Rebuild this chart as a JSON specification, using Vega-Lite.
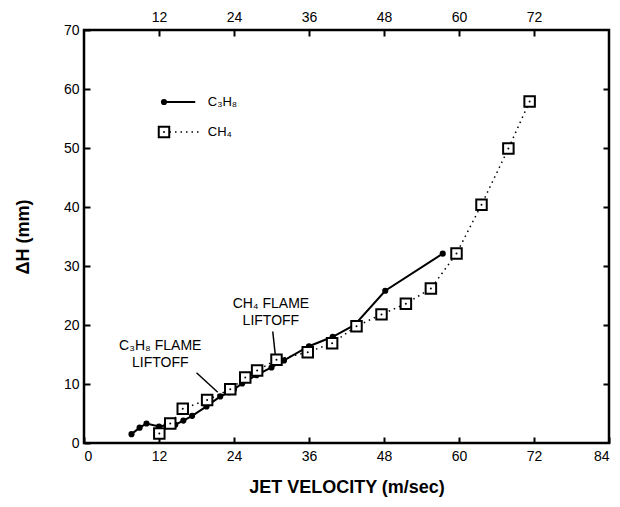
{
  "$schema": "https://vega.github.io/schema/vega-lite/v6.json",
  "width": 525,
  "height": 413,
  "autosize": "none",
  "padding": {"left": 84, "top": 30, "right": 11, "bottom": 64},
  "background": "white",
  "config": {
    "view": {"stroke": "#000", "strokeWidth": 2.5},
    "font": "Liberation Sans",
    "axis": {
      "domain": false, "grid": false,
      "tickColor": "#000", "tickWidth": 2, "tickSize": -6,
      "labelColor": "#000", "labelFont": "Liberation Sans", "labelFontSize": 14,
      "titleFont": "Liberation Sans", "titleColor": "#000", "titleFontSize": 18, "titleFontWeight": "bold"
    }
  },
  "datasets": {
    "c3h8": [
      {"velocity": 7.6, "dh": 1.5}, {"velocity": 8.9, "dh": 2.6}, {"velocity": 10.0, "dh": 3.3},
      {"velocity": 12.0, "dh": 2.8}, {"velocity": 13.2, "dh": 3.0}, {"velocity": 14.6, "dh": 3.1},
      {"velocity": 15.9, "dh": 3.8}, {"velocity": 17.3, "dh": 4.6}, {"velocity": 19.6, "dh": 6.2},
      {"velocity": 21.8, "dh": 7.9}, {"velocity": 23.2, "dh": 8.6}, {"velocity": 24.0, "dh": 9.1},
      {"velocity": 25.3, "dh": 10.1}, {"velocity": 27.6, "dh": 11.5}, {"velocity": 30.0, "dh": 12.8},
      {"velocity": 32.0, "dh": 14.0}, {"velocity": 36.0, "dh": 16.4}, {"velocity": 39.8, "dh": 18.0},
      {"velocity": 43.3, "dh": 20.0}, {"velocity": 48.2, "dh": 25.8}, {"velocity": 57.4, "dh": 32.1}
    ],
    "ch4": [
      {"velocity": 12.05, "dh": 1.6}, {"velocity": 13.8, "dh": 3.3}, {"velocity": 15.8, "dh": 5.8},
      {"velocity": 19.7, "dh": 7.3}, {"velocity": 23.4, "dh": 9.1}, {"velocity": 25.8, "dh": 11.1},
      {"velocity": 27.7, "dh": 12.3}, {"velocity": 30.8, "dh": 14.1}, {"velocity": 35.8, "dh": 15.4},
      {"velocity": 39.7, "dh": 16.9}, {"velocity": 43.6, "dh": 19.8}, {"velocity": 47.6, "dh": 21.8},
      {"velocity": 51.5, "dh": 23.6}, {"velocity": 55.5, "dh": 26.2}, {"velocity": 59.6, "dh": 32.1},
      {"velocity": 63.6, "dh": 40.4}, {"velocity": 67.9, "dh": 49.9}, {"velocity": 71.3, "dh": 57.9}
    ],
    "one": [{}]
  },
  "resolve": {"axis": {"x": "independent", "y": "independent"}},
  "layer": [
    {
      "data": {"name": "ch4"},
      "mark": {"type": "line", "color": "#000", "strokeWidth": 1.5, "strokeDash": [1.5, 4]},
      "encoding": {
        "x": {"field": "velocity", "type": "quantitative", "scale": {"domain": [0, 84], "nice": false},
              "axis": {"orient": "bottom", "values": [0, 12, 24, 36, 48, 60, 72, 84], "title": "JET VELOCITY (m/sec)", "labelPadding": 12, "titlePadding": 15}},
        "y": {"field": "dh", "type": "quantitative", "scale": {"domain": [0, 70], "nice": false},
              "axis": {"orient": "left", "values": [0, 10, 20, 30, 40, 50, 60, 70], "title": "ΔH (mm)", "labelPadding": 11, "titlePadding": 31}}
      }
    },
    {
      "data": {"name": "ch4"},
      "mark": {"type": "point", "opacity": 0},
      "encoding": {
        "x": {"field": "velocity", "type": "quantitative",
              "axis": {"orient": "top", "values": [12, 24, 36, 48, 60, 72], "title": null, "labelPadding": 12}},
        "y": {"field": "dh", "type": "quantitative",
              "axis": {"orient": "right", "values": [10, 20, 30, 40, 50, 60], "title": null, "labels": false}}
      }
    },
    {
      "data": {"name": "c3h8"},
      "mark": {"type": "line", "color": "#000", "strokeWidth": 2},
      "encoding": {
        "x": {"field": "velocity", "type": "quantitative", "axis": null},
        "y": {"field": "dh", "type": "quantitative", "axis": null}
      }
    },
    {
      "data": {"name": "c3h8"},
      "mark": {"type": "point", "shape": "circle", "filled": true, "color": "#000", "size": 38, "opacity": 1},
      "encoding": {
        "x": {"field": "velocity", "type": "quantitative", "axis": null},
        "y": {"field": "dh", "type": "quantitative", "axis": null}
      }
    },
    {
      "data": {"name": "ch4"},
      "mark": {"type": "point", "shape": "square", "filled": true, "fill": "#fff", "stroke": "#000", "strokeWidth": 2, "size": 110, "opacity": 1},
      "encoding": {
        "x": {"field": "velocity", "type": "quantitative", "axis": null},
        "y": {"field": "dh", "type": "quantitative", "axis": null}
      }
    },
    {
      "data": {"name": "ch4"},
      "mark": {"type": "point", "shape": "circle", "filled": true, "color": "#000", "size": 4, "opacity": 1},
      "encoding": {
        "x": {"field": "velocity", "type": "quantitative", "axis": null},
        "y": {"field": "dh", "type": "quantitative", "axis": null}
      }
    },
    {
      "data": {"name": "one"},
      "mark": {"type": "rule", "color": "#000", "strokeWidth": 2},
      "encoding": {"x": {"datum": 12.8, "type": "quantitative", "axis": null}, "x2": {"datum": 17.8}, "y": {"datum": 57.8, "type": "quantitative", "axis": null}}
    },
    {
      "data": {"name": "one"},
      "mark": {"type": "point", "shape": "circle", "filled": true, "color": "#000", "size": 38, "opacity": 1},
      "encoding": {"x": {"datum": 12.8, "type": "quantitative", "axis": null}, "y": {"datum": 57.8, "type": "quantitative", "axis": null}}
    },
    {
      "data": {"name": "one"},
      "mark": {"type": "text", "text": "C₃H₈", "align": "left", "baseline": "middle", "fontSize": 13, "color": "#000"},
      "encoding": {"x": {"datum": 19.8, "type": "quantitative", "axis": null}, "y": {"datum": 57.8, "type": "quantitative", "axis": null}}
    },
    {
      "data": {"name": "one"},
      "mark": {"type": "rule", "color": "#000", "strokeWidth": 1.5, "strokeDash": [1.5, 4]},
      "encoding": {"x": {"datum": 12.8, "type": "quantitative", "axis": null}, "x2": {"datum": 18.6}, "y": {"datum": 52.7, "type": "quantitative", "axis": null}}
    },
    {
      "data": {"name": "one"},
      "mark": {"type": "point", "shape": "square", "filled": true, "fill": "#fff", "stroke": "#000", "strokeWidth": 2, "size": 110, "opacity": 1},
      "encoding": {"x": {"datum": 12.8, "type": "quantitative", "axis": null}, "y": {"datum": 52.7, "type": "quantitative", "axis": null}}
    },
    {
      "data": {"name": "one"},
      "mark": {"type": "point", "shape": "circle", "filled": true, "color": "#000", "size": 4, "opacity": 1},
      "encoding": {"x": {"datum": 12.8, "type": "quantitative", "axis": null}, "y": {"datum": 52.7, "type": "quantitative", "axis": null}}
    },
    {
      "data": {"name": "one"},
      "mark": {"type": "text", "text": "CH₄", "align": "left", "baseline": "middle", "fontSize": 13, "color": "#000"},
      "encoding": {"x": {"datum": 19.8, "type": "quantitative", "axis": null}, "y": {"datum": 52.7, "type": "quantitative", "axis": null}}
    },
    {
      "data": {"name": "one"},
      "mark": {"type": "text", "text": ["C₃H₈ FLAME", "LIFTOFF"], "align": "center", "baseline": "alphabetic", "fontSize": 14, "lineHeight": 17, "color": "#000"},
      "encoding": {"x": {"datum": 12.2, "type": "quantitative", "axis": null}, "y": {"datum": 15.8, "type": "quantitative", "axis": null}}
    },
    {
      "data": {"name": "one"},
      "mark": {"type": "text", "text": ["CH₄ FLAME", "LIFTOFF"], "align": "center", "baseline": "alphabetic", "fontSize": 14, "lineHeight": 17, "color": "#000"},
      "encoding": {"x": {"datum": 29.9, "type": "quantitative", "axis": null}, "y": {"datum": 22.9, "type": "quantitative", "axis": null}}
    },
    {
      "data": {"name": "one"},
      "mark": {"type": "rule", "color": "#000", "strokeWidth": 1.5},
      "encoding": {"x": {"datum": 18.0, "type": "quantitative", "axis": null}, "x2": {"datum": 21.4}, "y": {"datum": 11.9, "type": "quantitative", "axis": null}, "y2": {"datum": 8.6}}
    },
    {
      "data": {"name": "one"},
      "mark": {"type": "rule", "color": "#000", "strokeWidth": 1.5},
      "encoding": {"x": {"datum": 30.2, "type": "quantitative", "axis": null}, "x2": {"datum": 30.6}, "y": {"datum": 18.9, "type": "quantitative", "axis": null}, "y2": {"datum": 15.0}}
    }
  ]
}
